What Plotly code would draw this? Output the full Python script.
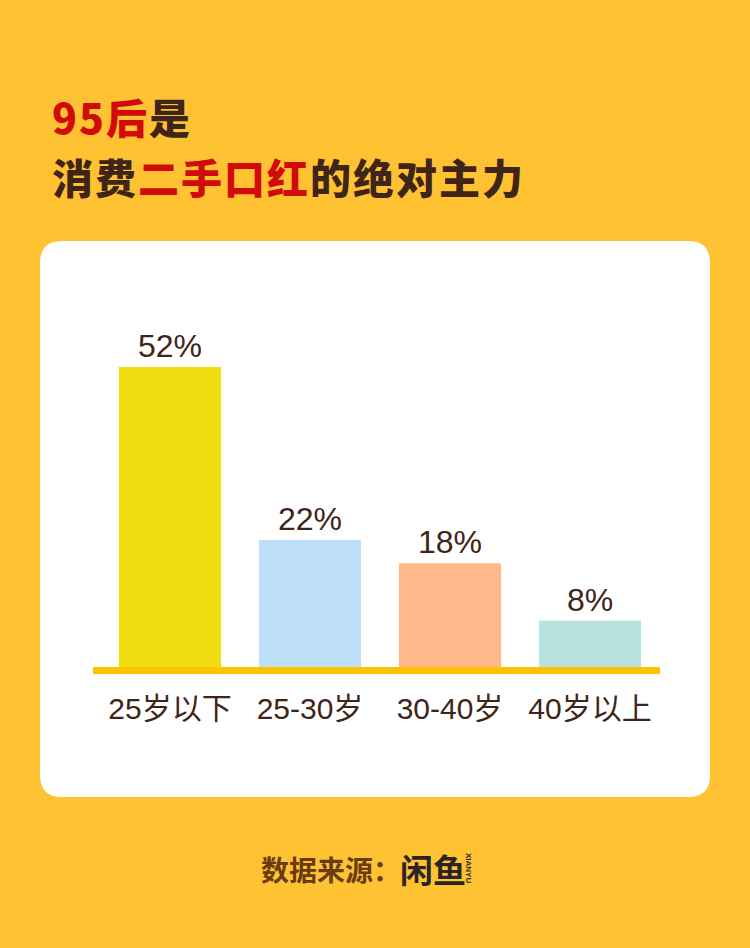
import plotly.graph_objects as go

categories = ["25岁以下", "25-30岁", "30-40岁", "40岁以上"]
values = [52, 22, 18, 8]
value_labels = ["52%", "22%", "18%", "8%"]
bar_colors = ["#F2DE10", "#BDDEF7", "#FFB98A", "#B8E2DE"]

W, H = 750, 948
L, R, T, B = 93, 90, 344, 281
PW, PH = W - L - R, H - T - B

def xp(px):
    return (px - L) / PW

def yp(py):
    return (H - B - py) / PH

BG = "#FFC233"
BROWN = "#3F2517"
RED = "#D10A0A"

fig = go.Figure()
fig.add_trace(go.Bar(
    x=categories, y=values, width=0.73,
    marker=dict(color=bar_colors, line=dict(width=0)),
    text=value_labels, textposition="outside", cliponaxis=False,
    textfont=dict(family="Liberation Sans, Noto Sans CJK SC", size=32, color=BROWN),
    hoverinfo="skip",
))

# rounded white card
x0, x1, y0, y1 = 40, 710, 241, 797
r = 22
def P(px, py):
    return f"{xp(px):.5f},{yp(py):.5f}"
card = (f"M {P(x0 + r, y0)} L {P(x1 - r, y0)} Q {P(x1, y0)} {P(x1, y0 + r)} "
        f"L {P(x1, y1 - r)} Q {P(x1, y1)} {P(x1 - r, y1)} "
        f"L {P(x0 + r, y1)} Q {P(x0, y1)} {P(x0, y1 - r)} "
        f"L {P(x0, y0 + r)} Q {P(x0, y0)} {P(x0 + r, y0)} Z")

shapes = [dict(type="path", path=card, xref="paper", yref="paper",
               fillcolor="white", line=dict(width=0), layer="below")]

title_font = dict(family="Noto Sans CJK SC", size=41, color=BROWN, weight=900)
LS = "letter-spacing:2px"
annotations = [
    dict(x=xp(50), y=yp(116), xref="paper", yref="paper", xanchor="left", yanchor="middle",
         text=f"<span style='color:{RED};{LS}'>95后</span><span style='{LS}'>是</span>",
         showarrow=False, font=title_font),
    dict(x=xp(50), y=yp(176), xref="paper", yref="paper", xanchor="left", yanchor="middle",
         text=(f"<span style='{LS}'>消费</span><span style='color:{RED};{LS}'>二手口红</span>"
               f"<span style='{LS}'>的绝对主力</span>"),
         showarrow=False, font=title_font),
    dict(x=xp(259), y=yp(869), xref="paper", yref="paper", xanchor="left", yanchor="middle",
         text="数据来源：", showarrow=False,
         font=dict(family="Noto Sans CJK SC", size=28, color="#6A3B10", weight=700)),
    dict(x=xp(398), y=yp(869), xref="paper", yref="paper", xanchor="left", yanchor="middle",
         text="闲鱼", showarrow=False,
         font=dict(family="Noto Sans CJK SC", size=33, color="#2A2522", weight=700)),
    dict(x=xp(469), y=yp(868), xref="paper", yref="paper", xanchor="center", yanchor="middle",
         text="XIANYU", showarrow=False, textangle=90,
         font=dict(family="Liberation Sans", size=8, color="#2A2522", weight=700)),
]

fig.update_layout(
    width=W, height=H,
    margin=dict(l=L, r=R, t=T, b=B, pad=0),
    paper_bgcolor=BG, plot_bgcolor="rgba(0,0,0,0)",
    showlegend=False, bargap=0.27,
    shapes=shapes, annotations=annotations,
    xaxis=dict(range=[-0.55, 3.5], showgrid=False, zeroline=False,
               showline=True, linecolor="#FDC300", linewidth=7,
               ticks="", ticklabelstandoff=9,
               tickfont=dict(family="Liberation Sans, Noto Sans CJK SC", size=30, color=BROWN),
               fixedrange=True),
    yaxis=dict(range=[0, 56], showgrid=False, zeroline=False, showticklabels=False,
               showline=False, fixedrange=True),
)

fig.write_html("out.html", config={"displayModeBar": False},
               post_script="document.body.style.margin='0';")
